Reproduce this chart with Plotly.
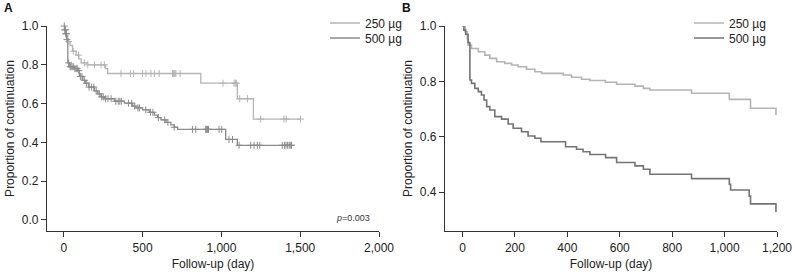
import numpy as np
import plotly.graph_objects as go

W, H = 793, 272

# ---------------- Panel A data ----------------
a250_t = [0, 8, 15, 25, 40, 55, 78, 95, 110, 150, 265, 278, 869, 1101, 1203, 1505]
a250_s = [1.0, 0.98, 0.95, 0.92, 0.90, 0.87, 0.85, 0.83, 0.81, 0.80, 0.78, 0.755, 0.705, 0.625, 0.52, 0.52]
a250_cens = [30, 60, 93, 130, 152, 194, 236, 257, 363, 422, 443, 500, 521, 553, 574, 605,
             690, 695, 700, 705, 711, 738, 1010, 1080, 1088, 1095, 1116, 1165, 1249, 1397, 1411, 1502]

a500_t = [0, 5, 12, 18, 25, 36, 68, 89, 99, 120, 137, 158, 194, 215, 236, 257, 321, 384, 437,
          458, 500, 542, 574, 595, 616, 648, 679, 700, 722, 1027, 1101, 1445]
a500_s = [1.0, 0.98, 0.96, 0.93, 0.81, 0.79, 0.78, 0.77, 0.74, 0.72, 0.705, 0.685, 0.665, 0.65,
          0.635, 0.625, 0.612, 0.602, 0.587, 0.578, 0.568, 0.555, 0.54, 0.528, 0.516, 0.503, 0.49,
          0.478, 0.467, 0.415, 0.385, 0.385]
a500_cens = [3, 6, 9, 12, 15, 20, 30, 40, 45, 52, 60, 70, 78, 85, 95, 105, 115, 130, 145, 160,
             175, 190, 205, 225, 240, 250, 265, 280, 300, 330, 345, 355, 365, 410, 430, 450, 470,
             480, 520, 550, 565, 600, 640, 660, 700, 816, 837, 900, 906, 912, 918, 985, 1002,
             1048, 1070, 1112, 1186, 1207, 1228, 1243, 1386, 1400, 1410, 1420, 1430, 1440, 1445]

# ---------------- Panel B data ----------------
b250_t = [0, 10, 18, 21, 34, 60, 85, 104, 130, 161, 187, 212, 244, 276, 301, 384, 416, 454,
          486, 545, 588, 658, 690, 715, 874, 1018, 1099, 1196, 1196]
b250_s = [1.0, 0.98, 0.955, 0.931, 0.919, 0.907, 0.895, 0.883, 0.871, 0.865, 0.859, 0.853,
          0.844, 0.835, 0.829, 0.823, 0.815, 0.808, 0.803, 0.797, 0.79, 0.783, 0.775, 0.769,
          0.757, 0.735, 0.703, 0.703, 0.679]

b500_t = [0, 5, 12, 21, 28, 34, 47, 60, 72, 82, 92, 104, 123, 149, 174, 193, 225, 250, 276,
          299, 393, 435, 460, 486, 546, 588, 658, 690, 715, 874, 1018, 1023, 1094, 1099, 1196, 1196]
b500_s = [1.0, 0.985, 0.97, 0.94, 0.805, 0.793, 0.775, 0.763, 0.751, 0.733, 0.709, 0.697,
          0.673, 0.664, 0.646, 0.631, 0.618, 0.603, 0.595, 0.582, 0.564, 0.555, 0.546, 0.536,
          0.525, 0.507, 0.495, 0.483, 0.465, 0.449, 0.429, 0.408, 0.386, 0.358, 0.358, 0.329]

series_names = ["250 \u00b5g", "500 \u00b5g"]
a_xticks = [0, 500, 1000, 1500, 2000]
a_yticks = [0.0, 0.2, 0.4, 0.6, 0.8, 1.0]
b_xticks = [0, 200, 400, 600, 800, 1000, 1200]
b_yticks = [0.4, 0.6, 0.8, 1.0]

LIGHT = "#b4b4b4"
DARK_A = "#8c8c8c"
DARK_B = "#747474"
FONT = "Liberation Sans, Arial, sans-serif"
TXT = "#222222"


def step_at(t, s, x):
    t = np.asarray(t, float)
    s = np.asarray(s, float)
    idx = np.searchsorted(t, np.asarray(x, float), side="right") - 1
    idx = np.clip(idx, 0, len(s) - 1)
    return s[idx]


fig = go.Figure()

# Panel A curves
fig.add_trace(go.Scatter(x=a250_t, y=a250_s, mode="lines", line=dict(shape="hv", color=LIGHT, width=1.3),
                         name=series_names[0], legend="legend", xaxis="x", yaxis="y", cliponaxis=False))
fig.add_trace(go.Scatter(x=a500_t, y=a500_s, mode="lines", line=dict(shape="hv", color=DARK_A, width=1.3),
                         name=series_names[1], legend="legend2", xaxis="x", yaxis="y", cliponaxis=False))
fig.add_trace(go.Scatter(x=a250_cens, y=step_at(a250_t, a250_s, a250_cens), mode="markers",
                         marker=dict(symbol="cross-thin-open", size=5, color=LIGHT, line=dict(color=LIGHT, width=1)),
                         showlegend=False, xaxis="x", yaxis="y", cliponaxis=False))
fig.add_trace(go.Scatter(x=a500_cens, y=step_at(a500_t, a500_s, a500_cens), mode="markers",
                         marker=dict(symbol="cross-thin-open", size=5, color=DARK_A, line=dict(color=DARK_A, width=1)),
                         showlegend=False, xaxis="x", yaxis="y", cliponaxis=False))

# Panel B curves
fig.add_trace(go.Scatter(x=b250_t, y=b250_s, mode="lines", line=dict(shape="hv", color=LIGHT, width=1.6),
                         name=series_names[0], legend="legend3", xaxis="x2", yaxis="y2", cliponaxis=False))
fig.add_trace(go.Scatter(x=b500_t, y=b500_s, mode="lines", line=dict(shape="hv", color=DARK_B, width=1.6),
                         name=series_names[1], legend="legend4", xaxis="x2", yaxis="y2", cliponaxis=False))

ydom = [1 - 231 / H, 1 - 26 / H]
axis_common = dict(showline=True, linecolor="#333333", linewidth=1.2, ticks="outside", ticklen=5,
                   tickcolor="#333333", tickwidth=1.2, showgrid=False, zeroline=False,
                   tickfont=dict(family=FONT, size=12, color=TXT), automargin=False)


def leg(xpx, ypx):
    return dict(x=xpx / W, y=1 - ypx / H, xanchor="left", yanchor="middle", bgcolor="rgba(0,0,0,0)",
                font=dict(family=FONT, size=12, color=TXT), itemwidth=30, tracegroupgap=0)


fig.update_layout(
    width=W, height=H, margin=dict(l=0, r=0, t=0, b=0),
    paper_bgcolor="white", plot_bgcolor="white",
    font=dict(family=FONT, size=12, color=TXT),
    xaxis=dict(domain=[47 / W, 379 / W], range=[-107, 2000], tickvals=a_xticks, tickformat=",",
               title=dict(text="Follow-up (day)", font=dict(family=FONT, size=12, color=TXT), standoff=6),
               anchor="y", **axis_common),
    yaxis=dict(domain=ydom, range=[-0.057, 1.0], tickvals=a_yticks, tickformat=".1f",
               title=dict(text="Proportion of continuation", font=dict(family=FONT, size=12, color=TXT), standoff=4),
               anchor="x", **axis_common),
    xaxis2=dict(domain=[445 / W, 777 / W], range=[-67, 1200], tickvals=b_xticks, tickformat=",",
                title=dict(text="Follow-up (day)", font=dict(family=FONT, size=12, color=TXT), standoff=6),
                anchor="y2", **axis_common),
    yaxis2=dict(domain=ydom, range=[0.26, 1.0], tickvals=b_yticks, tickformat=".1f",
                title=dict(text="Proportion of continuation", font=dict(family=FONT, size=12, color=TXT), standoff=4),
                anchor="x2", **axis_common),
    legend=leg(325, 23),
    legend2=leg(325, 38),
    legend3=leg(689, 23),
    legend4=leg(689, 38),
    annotations=[
        dict(text="<b>A</b>", x=2 / W, y=1 - 8 / H, xref="paper", yref="paper", xanchor="left",
             yanchor="middle", showarrow=False, font=dict(family=FONT, size=12, color="#111")),
        dict(text="<b>B</b>", x=400 / W, y=1 - 8 / H, xref="paper", yref="paper", xanchor="left",
             yanchor="middle", showarrow=False, font=dict(family=FONT, size=12, color="#111")),
        dict(text="<i>p</i>=0.003", x=372 / W, y=1 - 218 / H, xref="paper", yref="paper", xanchor="right",
             yanchor="middle", showarrow=False, font=dict(family=FONT, size=9, color="#333")),
    ],
)

fig.write_html("out.html", config={"displayModeBar": False},
               post_script="document.body.style.margin='0';document.body.style.padding='0';")
